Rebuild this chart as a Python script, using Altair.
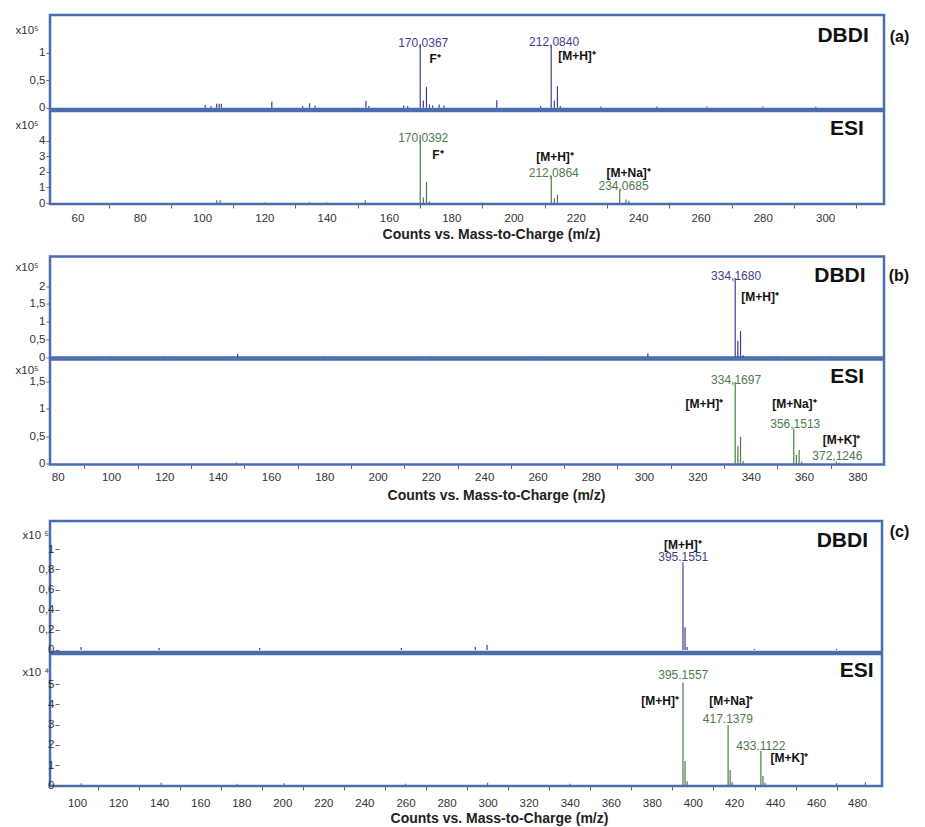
import altair as alt
import pandas as pd

FONT = "Liberation Sans"
BLUE = "#3d3f8e"
GREEN = "#4c7c4c"
FRAME = "#4a6db0"
TXT = "#333333"

# ---------------- Panel (a) ----------------
A_DBDI_MZ = [101.0, 102.9, 104.7, 105.5, 106.2, 122.4, 132.3, 134.5, 136.3, 152.6, 153.5, 164.7, 166.0,
             170.04, 171.04, 172.04, 173.0, 174.0, 176.1, 177.7, 194.6, 208.7, 212.08, 213.09, 214.08,
             215.0, 228.0, 246.0, 262.0, 280.0, 297.0]
A_DBDI_INT = [0.05, 0.03, 0.07, 0.07, 0.07, 0.11, 0.03, 0.08, 0.04, 0.12, 0.03, 0.04, 0.03,
              1.16, 0.13, 0.38, 0.06, 0.04, 0.06, 0.04, 0.135, 0.03, 1.135, 0.13, 0.39,
              0.03, 0.02, 0.02, 0.015, 0.02, 0.015]
A_ESI_MZ = [104.7, 105.8, 120.0, 134.5, 140.0, 152.4, 170.04, 171.04, 172.04, 173.0, 190.0,
            212.09, 213.09, 214.08, 234.07, 236.07, 237.0, 250.0]
A_ESI_INT = [0.17, 0.17, 0.03, 0.05, 0.03, 0.17, 4.38, 0.36, 1.34, 0.1, 0.03,
             1.76, 0.3, 0.53, 0.83, 0.22, 0.15, 0.02]

A_DBDI_NUM = [("170,0367", 171.0, 1.185), ("212,0840", 213.0, 1.195)]
A_DBDI_ION = [("F⁺", 174.8, 0.885), ("[M+H]⁺", 220.35, 0.935)]
A_DBDI_NAME = [("DBDI", 314.0, 1.304)]
A_TAG = [("(a)", 323.9, 1.285)]
A_ESI_NUM = [("170,0392", 171.0, 4.14), ("212,0864", 212.9, 1.955), ("234,0685", 235.3, 1.06)]
A_ESI_ION = [("F⁺", 175.7, 3.08), ("[M+H]⁺", 213.3, 2.97), ("[M+Na]⁺", 236.95, 1.955)]
A_ESI_NAME = [("ESI", 312.4, 4.74)]

# ---------------- Panel (b) ----------------
B_DBDI_MZ = [100.0, 120.0, 147.5, 180.0, 220.0, 260.0, 301.4, 334.17, 335.17, 336.17, 337.17, 350.0, 370.0]
B_DBDI_INT = [0.02, 0.02, 0.1, 0.02, 0.02, 0.02, 0.12, 2.23, 0.47, 0.74, 0.06, 0.02, 0.02]
B_ESI_MZ = [147.0, 334.17, 335.17, 336.17, 337.17, 356.15, 357.15, 358.15, 359.15, 372.12, 373.1]
B_ESI_INT = [0.03, 1.48, 0.32, 0.49, 0.05, 0.64, 0.16, 0.25, 0.04, 0.04, 0.02]

B_DBDI_NUM = [("334,1680", 334.5, 2.295)]
B_DBDI_ION = [("[M+H]⁺", 343.5, 1.69)]
B_DBDI_NAME = [("DBDI", 383.1, 2.295)]
B_TAG = [("(b)", 395.6, 2.295)]
B_ESI_NUM = [("334,1697", 334.5, 1.51), ("356,1513", 356.7, 0.715), ("372,1246", 372.5, 0.145)]
B_ESI_ION = [("[M+H]⁺", 322.6, 1.09), ("[M+Na]⁺", 356.4, 1.09), ("[M+K]⁺", 374.1, 0.43)]
B_ESI_NAME = [("ESI", 382.5, 1.57)]

# ---------------- Panel (c) ----------------
C_DBDI_MZ = [102.0, 140.0, 189.0, 258.0, 294.0, 299.7, 395.16, 396.16, 397.16, 430.0, 470.0]
C_DBDI_INT = [0.03, 0.02, 0.02, 0.02, 0.03, 0.05, 0.87, 0.225, 0.03, 0.01, 0.01]
C_ESI_MZ = [102.0, 141.0, 178.0, 201.0, 260.0, 300.0, 340.0, 395.16, 396.16, 397.16,
            417.14, 418.14, 419.14, 433.11, 434.11, 435.11, 470.0, 484.0]
C_ESI_INT = [0.1, 0.12, 0.08, 0.1, 0.08, 0.12, 0.08, 5.08, 1.2, 0.2,
             2.97, 0.76, 0.15, 1.7, 0.46, 0.12, 0.1, 0.15]

C_DBDI_NUM = [("395.1551", 395.3, 0.92)]
C_DBDI_ION = [("[M+H]⁺", 395.1, 1.04)]
C_DBDI_NAME = [("DBDI", 485.3, 1.08)]
C_TAG = [("(c)", 500.6, 1.175)]
C_ESI_NUM = [("395.1557", 395.3, 5.45), ("417.1379", 417.0, 3.27), ("433.1122", 433.1, 1.95)]
C_ESI_ION = [("[M+H]⁺", 384.0, 4.17), ("[M+Na]⁺", 418.7, 4.17), ("[M+K]⁺", 447.0, 1.37)]
C_ESI_NAME = [("ESI", 488.0, 5.66)]

X_TITLE = "Counts vs. Mass-to-Charge (m/z)"


def lbl_df(items):
    return pd.DataFrame({"t": [i[0] for i in items], "mz": [i[1] for i in items], "i": [i[2] for i in items]})


def panel(mz, inten, color, xdom, ydom, yticks, w, h, ytitle, ttx, tty,
          nums, ions, name, tag=None, xaxis_info=None, yoffset=0):
    xs = alt.Scale(domain=xdom, nice=False, zero=False)
    ys = alt.Scale(domain=ydom, nice=False, zero=False)
    if xaxis_info is None:
        xaxis = None
    else:
        vals, lpad, tx, ty = xaxis_info
        xaxis = alt.Axis(
            values=vals,
            labelExpr="datum.value % 20 === 0 ? datum.label : ''",
            tickOpacity={"condition": {"test": "datum.value % 20 === 0", "value": 0}, "value": 1},
            tickSize=4, tickColor="#666", tickWidth=1,
            domain=False, grid=False,
            labelFontSize=11.5, labelColor=TXT, labelPadding=lpad, labelFlush=False,
            title=X_TITLE, titleFontSize=14, titleFontWeight="bold", titleColor="#222",
            titleX=tx, titleY=ty, titleAlign="center", titleBaseline="middle",
        )
    yaxis = alt.Axis(
        values=yticks, format="~g",
        labelExpr="replace(datum.label, '.', ',')",
        tickSize=4, tickColor="#666", tickWidth=1,
        domain=False, grid=False, offset=yoffset,
        labelFontSize=11.5, labelColor=TXT, labelPadding=1,
        title=ytitle, titleAngle=0, titleAlign="left", titleBaseline="middle",
        titleX=ttx, titleY=tty, titleFontSize=11.5, titleFontWeight="normal", titleColor=TXT,
    )
    xenc = alt.X("mz:Q", scale=xs, axis=xaxis)
    yenc = alt.Y("i:Q", scale=ys, axis=yaxis)

    peaks = pd.DataFrame({"mz": mz, "i": inten})
    rules = alt.Chart(peaks).mark_rule(color=color, strokeWidth=1.2).encode(
        x=xenc, y=yenc, y2=alt.datum(0))

    def tl(items, **mk):
        return alt.Chart(lbl_df(items)).mark_text(font=FONT, baseline="middle", **mk).encode(
            x=xenc, y=yenc, text="t:N")

    layers = [rules,
              tl(nums, color=color, fontSize=12, align="center"),
              tl(ions, color="#111", fontSize=12, fontWeight="bold", align="center"),
              tl(name, color="#111", fontSize=21, fontWeight="bold", align="right")]
    if tag is not None:
        layers.append(tl(tag, color="#111", fontSize=16, fontWeight="bold", align="center"))
    return alt.layer(*layers).properties(width=w, height=h)


a_top = panel(A_DBDI_MZ, A_DBDI_INT, BLUE, [51.2, 318.9], [-0.024, 1.685], [0, 0.5, 1], 834, 94,
              "x10⁵", -35, 15, A_DBDI_NUM, A_DBDI_ION, A_DBDI_NAME, A_TAG)
a_bot = panel(A_ESI_MZ, A_ESI_INT, GREEN, [51.2, 318.9], [-0.064, 5.9], [0, 1, 2, 3, 4], 834, 93,
              "x10⁵", -35, 14, A_ESI_NUM, A_ESI_ION, A_ESI_NAME,
              xaxis_info=(list(range(60, 320, 10)), 4, 441, 30))
b_top = panel(B_DBDI_MZ, B_DBDI_INT, BLUE, [77.1, 390.0], [0.0, 2.83], [0, 0.5, 1, 1.5, 2], 834, 101,
              "x10⁵", -35, 11, B_DBDI_NUM, B_DBDI_ION, B_DBDI_NAME, B_TAG)
b_bot = panel(B_ESI_MZ, B_ESI_INT, GREEN, [77.1, 390.0], [-0.013, 1.89], [0, 0.5, 1, 1.5], 834, 105,
              "x10⁵", -35, 11, B_ESI_NUM, B_ESI_ION, B_ESI_NAME,
              xaxis_info=(list(range(80, 390, 10)), 3, 446, 31))
c_top = panel(C_DBDI_MZ, C_DBDI_INT, BLUE, [86.85, 492.1], [-0.02, 1.28], [0, 0.2, 0.4, 0.6, 0.8, 1], 832, 131,
              "x10 ⁵", -37, 14, C_DBDI_NUM, C_DBDI_ION, C_DBDI_NAME, C_TAG, yoffset=-9)
c_bot = panel(C_ESI_MZ, C_ESI_INT, GREEN, [86.85, 492.1], [-0.035, 6.49], [0, 1, 2, 3, 4, 5], 832, 132,
              "x10 ⁴", -37, 18, C_ESI_NUM, C_ESI_ION, C_ESI_NAME,
              xaxis_info=(list(range(100, 490, 10)), 7, 449, 32), yoffset=-9)

grp_a = alt.vconcat(a_top, a_bot, spacing=2, bounds="flush")
grp_b = alt.vconcat(b_top, b_bot, spacing=2, bounds="flush")
grp_c = alt.vconcat(c_top, c_bot, spacing=2, bounds="flush")

ab = alt.vconcat(grp_a, grp_b, spacing=11.5)
chart = alt.vconcat(ab, grp_c, spacing=15).properties(
    padding={"left": 5, "top": 5, "right": 5, "bottom": 0}
).configure(font=FONT).configure_view(stroke=FRAME, strokeWidth=2.5)

chart.save("out.html", embed_options={"renderer": "svg", "actions": False})
